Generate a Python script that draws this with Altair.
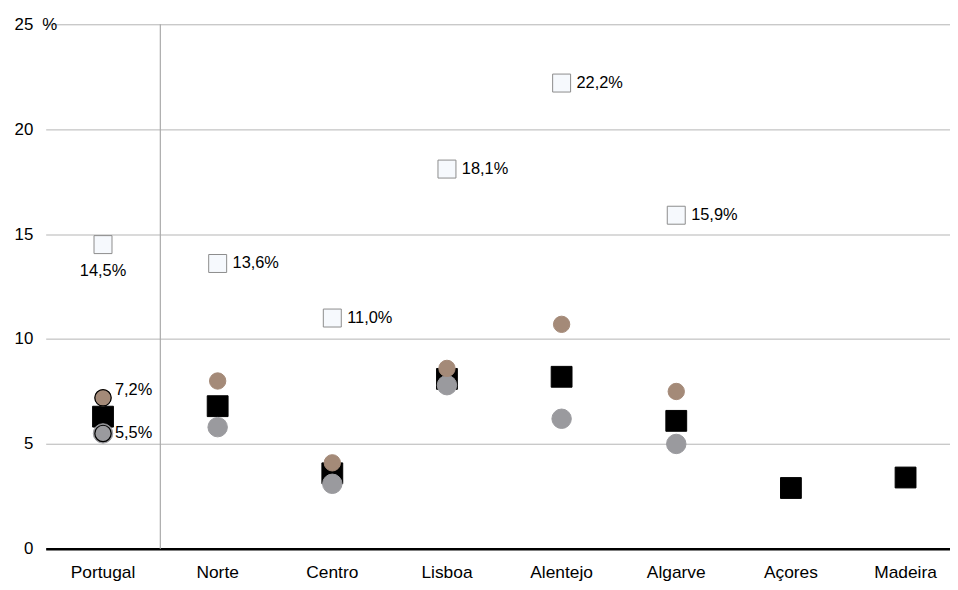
import altair as alt
import pandas as pd

regions = ["Portugal", "Norte", "Centro", "Lisboa", "Alentejo", "Algarve", "Açores", "Madeira"]
total = [6.3, 6.8, 3.6, 8.1, 8.2, 6.1, 2.9, 3.4]
jovens = [14.5, 13.6, 11.0, 18.1, 22.2, 15.9, None, None]
masculino = [5.5, 5.8, 3.1, 7.8, 6.2, 5.0, None, None]
feminino = [7.2, 8.0, 4.1, 8.6, 10.7, 7.5, None, None]

series = ["Total", "Masculino", "15-24 anos", "Feminino"]
fills = ["#000000", "#9a9a9e", "#f6f9fd", "#a48a78"]
strokes = ["#000000", "#9a9a9e", "#8c8c8c", "#a48a78"]
shapes = ["square", "circle", "square", "circle"]
sizes = [441, 272, 310, 272]

FONT = "Liberation Sans"

rows = []
for name, vals in [("Total", total), ("15-24 anos", jovens), ("Masculino", masculino), ("Feminino", feminino)]:
    for r, v in zip(regions, vals):
        if v is not None:
            rows.append({"regiao": r, "serie": name, "grupo": name, "valor": v})
df = pd.DataFrame(rows)


def fmt(v):
    return f"{v:.1f}".replace(".", ",") + "%"


lab_j = pd.DataFrame([{"regiao": r, "valor": v, "txt": fmt(v)} for r, v in zip(regions[1:], jovens[1:]) if v is not None])
lab_pj = pd.DataFrame([{"regiao": regions[0], "valor": jovens[0], "txt": fmt(jovens[0])}])
lab_pm = pd.DataFrame([{"regiao": regions[0], "valor": masculino[0], "txt": fmt(masculino[0])}])
lab_pf = pd.DataFrame([{"regiao": regions[0], "valor": feminino[0], "txt": fmt(feminino[0])}])
port_circ = pd.DataFrame([{"regiao": regions[0], "valor": masculino[0]}, {"regiao": regions[0], "valor": feminino[0]}])
sep = pd.DataFrame([{"regiao": regions[0]}])

xscale = alt.Scale(domain=regions, paddingInner=0, paddingOuter=0, range=[0, 925])
yscale = alt.Scale(domain=[0, 25], nice=False)

xaxis = alt.Axis(labelAngle=0, ticks=False, domainColor="#000000", domainWidth=2.5,
                 labelFontSize=17.5, labelFont=FONT, labelColor="#000000", labelPadding=15,
                 grid=False, bandPosition=0.5, labelAlign="center", labelBaseline="top")
X = alt.X("regiao:N", scale=xscale, sort=regions, title=None, axis=xaxis)
Y = alt.Y("valor:Q", scale=yscale,
          axis=alt.Axis(values=[0, 5, 10, 15, 20, 25], grid=True, gridColor="#b4b4b4", gridWidth=1,
                        domain=False, ticks=False, labelFontSize=17, labelFont=FONT, labelColor="#000000",
                        labelPadding=13, title="%", titleAngle=0, titleX=-4, titleY=0, titleAlign="left",
                        titleBaseline="middle", titleFontWeight="normal", titleFontSize=17, titleFont=FONT,
                        titleColor="#000000"))

leg = alt.Legend(orient="none", legendX=689, legendY=32, columns=2,
                 titleFontSize=1, titleColor="#ffffff", titlePadding=0,
                 labelFontSize=16.5, labelFont=FONT, labelColor="#000000", symbolSize=130,
                 symbolStrokeWidth=1, rowPadding=5, columnPadding=8, labelOffset=7)

points = alt.Chart(df).mark_point(filled=True, opacity=1, strokeWidth=1).encode(
    x=X, y=Y,
    fill=alt.Fill("serie:N", scale=alt.Scale(domain=series, range=fills), legend=leg),
    stroke=alt.Stroke("serie:N", scale=alt.Scale(domain=series, range=strokes), legend=leg),
    shape=alt.Shape("serie:N", scale=alt.Scale(domain=series, range=shapes), legend=leg),
    size=alt.Size("grupo:N", scale=alt.Scale(domain=series, range=sizes), legend=None),
)

separator = alt.Chart(sep).mark_rule(color="#aaaaaa", strokeWidth=1.2).encode(
    x=alt.X("regiao:N", scale=xscale, bandPosition=1, title=None, axis=xaxis),
    y=alt.datum(0), y2=alt.datum(25),
)

outline = alt.Chart(port_circ).mark_point(shape="circle", size=272, filled=False, stroke="#000000",
                                           strokeWidth=1.2, opacity=1).encode(
    x=alt.X("regiao:N", scale=xscale), y=alt.Y("valor:Q", scale=yscale))

tstyle = dict(font=FONT, fontSize=16.5, color="#000000", baseline="middle")
t_j = alt.Chart(lab_j).mark_text(align="left", dx=15, **tstyle).encode(
    x=alt.X("regiao:N", scale=xscale), y=alt.Y("valor:Q", scale=yscale), text="txt:N")
t_pj = alt.Chart(lab_pj).mark_text(align="center", dy=27, **tstyle).encode(
    x=alt.X("regiao:N", scale=xscale), y=alt.Y("valor:Q", scale=yscale), text="txt:N")
t_pm = alt.Chart(lab_pm).mark_text(align="left", dx=12, **tstyle).encode(
    x=alt.X("regiao:N", scale=xscale), y=alt.Y("valor:Q", scale=yscale), text="txt:N")
t_pf = alt.Chart(lab_pf).mark_text(align="left", dx=12, dy=-8, **tstyle).encode(
    x=alt.X("regiao:N", scale=xscale), y=alt.Y("valor:Q", scale=yscale), text="txt:N")

chart = alt.layer(points, separator, outline, t_j, t_pj, t_pm, t_pf).properties(
    width=912, height=529,
    autosize=alt.AutoSizeParams(type="none"),
    padding={"left": 38, "top": 14, "right": 0, "bottom": 31},
).configure_view(stroke=None)

chart.save("out.html", embed_options={"renderer": "svg", "actions": False})
